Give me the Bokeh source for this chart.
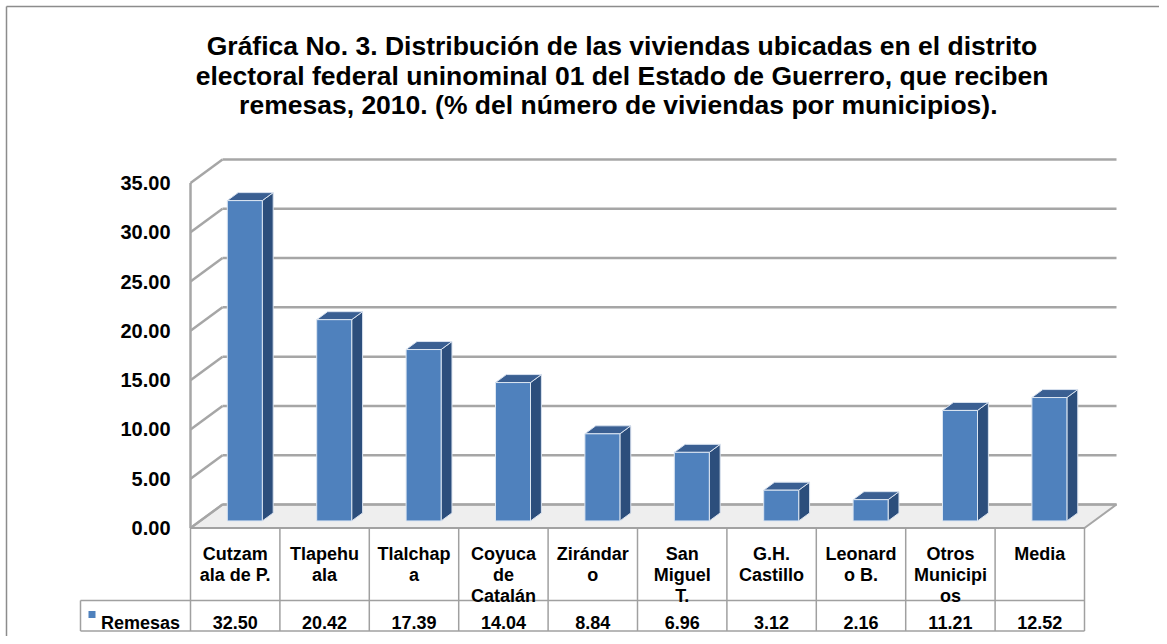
from bokeh.plotting import figure
from bokeh.models import Range1d
from bokeh.core.properties import value
from bokeh.embed import file_html
from bokeh.resources import INLINE

# ---------------- data ----------------
title_lines = [
    "Gráfica No. 3. Distribución de las viviendas ubicadas en el distrito",
    "electoral federal uninominal 01 del Estado de Guerrero, que reciben",
    "remesas, 2010.  (% del número de viviendas por municipios).",
]
categories = ["Cutzam\nala de P.", "Tlapehu\nala", "Tlalchap\na", "Coyuca\nde\nCatalán",
              "Zirándar\no", "San\nMiguel\nT.", "G.H.\nCastillo", "Leonard\no B.",
              "Otros\nMunicipi\nos", "Media"]
remesas = [32.50, 20.42, 17.39, 14.04, 8.84, 6.96, 3.12, 2.16, 11.21, 12.52]
series_name = "Remesas"
tick_values = [0, 5, 10, 15, 20, 25, 30, 35]
tick_labels = ["0.00", "5.00", "10.00", "15.00", "20.00", "25.00", "30.00", "35.00"]

# ---------------- layout constants ----------------
W, H = 1159, 636
ORG = 0.0        # page offset of the figure origin
PX_X = 89.4      # px per category
PX_Y = 9.857     # px per value unit
X0_PAGE = 190.0  # page x of category -0.5
Y0_PAGE = 527.5  # page y of value 0 (front)
x_start = -0.5 - (X0_PAGE - ORG) / PX_X
x_end = x_start + W / PX_X
y_end = (Y0_PAGE - ORG) / PX_Y
y_start = y_end - H / PX_Y

def gx(px):
    return -0.5 + (px - X0_PAGE) / PX_X

def gy(py):
    return (Y0_PAGE - py) / PX_Y

DX = 32.0 / PX_X
DY = 23.5 / PX_Y
F0 = 0.30   # bar front depth fraction
FD = 0.34   # bar depth fraction
HW = 17.5 / PX_X

FONT = value("Liberation Sans")
n = len(categories)
ymax = tick_values[-1]

p = figure(width=W, height=H, x_range=Range1d(x_start, x_end), y_range=Range1d(y_start, y_end),
           min_border=0, toolbar_location=None, output_backend="svg",
           x_axis_location=None, y_axis_location=None)
p.grid.visible = False
p.outline_line_color = None
p.background_fill_color = "white"

# outer border (top & left visible)
p.segment(x0=[gx(6), gx(6)], y0=[gy(6), gy(6)], x1=[x_end, gx(6)], y1=[gy(6), y_start],
          line_color="#8C8C8C", line_width=1.5)

# floor
p.patch(x=[-0.5, n - 0.5, n - 0.5 + DX, -0.5 + DX], y=[0, 0, DY, DY],
        fill_color="#EEEEEE", line_color="#A6A6A6", line_width=2)

# back wall gridlines
p.segment(x0=[-0.5 + DX] * len(tick_values), y0=[t + DY for t in tick_values],
          x1=[n - 0.5 + DX] * len(tick_values), y1=[t + DY for t in tick_values],
          line_color="#A6A6A6", line_width=2.5)
# left wall diagonals
p.segment(x0=[-0.5] * len(tick_values), y0=tick_values,
          x1=[-0.5 + DX] * len(tick_values), y1=[t + DY for t in tick_values],
          line_color="#A6A6A6", line_width=2.5)
# left wall front edge
p.segment(x0=[-0.5], y0=[0], x1=[-0.5], y1=[ymax], line_color="#A6A6A6", line_width=2.5)

# bars
xc = [i + F0 * DX for i in range(n)]
left = [c - HW for c in xc]
right = [c + HW for c in xc]
bottom = [F0 * DY] * n
top = [v + F0 * DY for v in remesas]
side_xs = [[r, r + FD * DX, r + FD * DX, r] for r in right]
side_ys = [[b, b + FD * DY, t + FD * DY, t] for b, t in zip(bottom, top)]
top_xs = [[l, r, r + FD * DX, l + FD * DX] for l, r in zip(left, right)]
top_ys = [[t, t, t + FD * DY, t + FD * DY] for t in top]
p.patches(xs=side_xs, ys=side_ys, fill_color="#2C4E7C", line_color="#D9E2EF", line_width=1)
p.patches(xs=top_xs, ys=top_ys, fill_color="#3A5F92", line_color="#D9E2EF", line_width=1)
p.quad(left=left, right=right, bottom=bottom, top=top, fill_color="#4F81BD",
       line_color="#DCE6F2", line_width=1)

# y tick labels
p.text(x=[gx(170)] * len(tick_values), y=tick_values, text=tick_labels, text_font=FONT,
       text_font_style="bold", text_font_size="20px", text_align="right",
       text_baseline="middle", text_color="black")

# title
p.text(x=[gx(621.5)] * 3, y=[gy(45.5), gy(75), gy(104)], text=title_lines, text_font=FONT,
       text_font_style="bold", text_font_size="26.5px", text_align="center",
       text_baseline="alphabetic", text_color="black")

# data table
row_top = 0.0
row_mid = gy(600)
row_bot = gy(630.5)
leg_left = gx(80)
tl = "#A0A0A0"
hx0 = [-0.5, leg_left, leg_left]
hx1 = [n - 0.5, n - 0.5, n - 0.5]
hy = [row_top, row_mid, row_bot]
p.segment(x0=hx0, y0=hy, x1=hx1, y1=hy, line_color=tl, line_width=1.5)
vx = [k - 0.5 for k in range(n + 1)]
p.segment(x0=vx, y0=[row_top] * (n + 1), x1=vx, y1=[row_bot] * (n + 1), line_color=tl, line_width=1.5)
p.segment(x0=[leg_left], y0=[row_mid], x1=[leg_left], y1=[row_bot], line_color=tl, line_width=1.5)

lx, ly, lt = [], [], []
for i, c in enumerate(categories):
    for k, line in enumerate(c.split("\n")):
        lx.append(i)
        ly.append(gy(553.5 + 21 * k))
        lt.append(line)
p.text(x=lx, y=ly, text=lt, text_font=FONT, text_font_style="bold", text_font_size="18px",
       text_align="center", text_baseline="alphabetic", text_color="black")

p.text(x=list(range(n)), y=[gy(622)] * n, text=[f"{v:.2f}" for v in remesas], text_font=FONT,
       text_font_style="bold", text_font_size="18px", text_align="center",
       text_baseline="alphabetic", text_color="black")

# legend key
p.scatter(x=[gx(91.5)], y=[gy(614)], size=7, marker="square", fill_color="#4F81BD", line_color=None)
p.text(x=[gx(100.5)], y=[gy(622)], text=[series_name], text_font=FONT, text_font_style="bold",
       text_font_size="18px", text_align="left", text_baseline="alphabetic", text_color="black")

open("out.html", "w").write(file_html(p, INLINE))
